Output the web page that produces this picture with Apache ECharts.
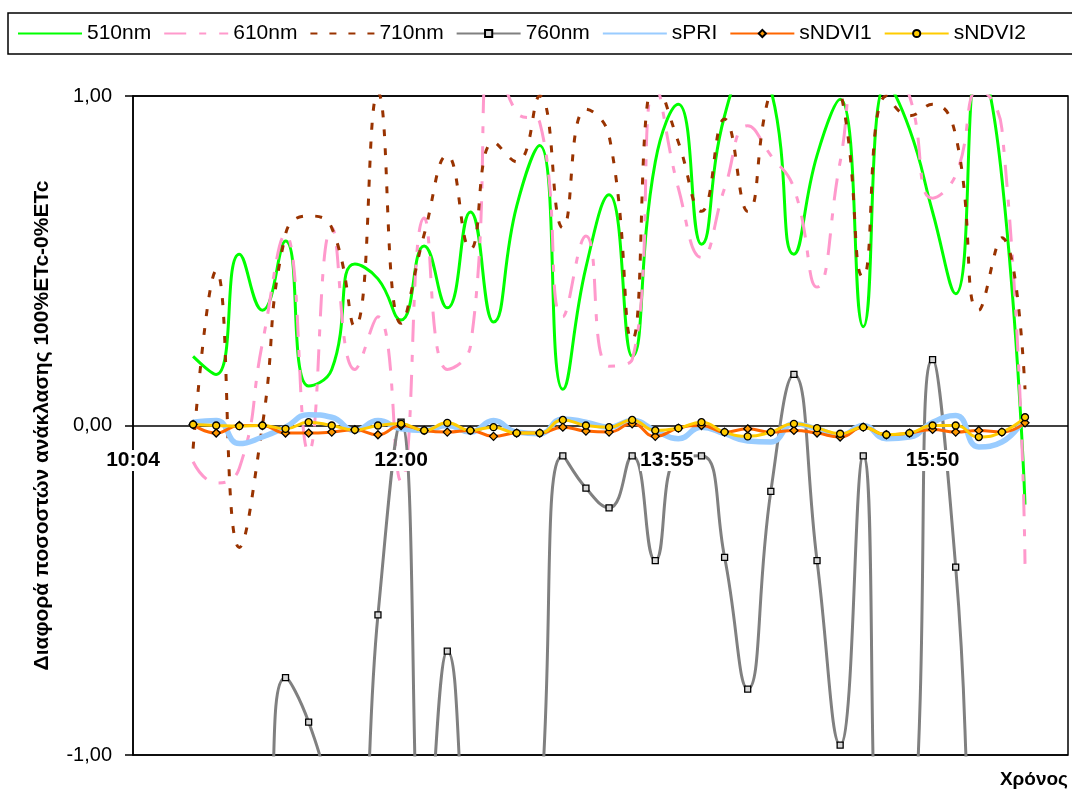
<!DOCTYPE html>
<html>
<head>
<meta charset="UTF-8">
<title>Διαφορά ανάκλασης</title>
<script type="text/javascript" src="https://cdn.jsdelivr.net/npm/echarts@6/dist/echarts.min.js"></script>
<style>
  html, body { margin: 0; padding: 0; background: #fff; }
</style>
</head>
<body>
	<div id="div1" style="width:1072px;height:790px"></div>
	<script type="text/javascript">
	// measurement times (one point every ~10 min)
	var times = ['10:30','10:40','10:50','11:00','11:10','11:20','11:30','11:40','11:50',
		'12:00','12:10','12:20','12:30','12:40','12:50','13:00','13:10','13:20','13:30','13:40','13:50',
		'14:00','14:10','14:20','14:30','14:40','14:50','15:00','15:10','15:20','15:30','15:40','15:50',
		'16:00','16:10','16:20','16:30'];
	var tickLabels = ['10:04', '12:00', '13:55', '15:50'];
	var yTicks = [-1, 0, 1];

	var nm510 = [0.21, 0.155, 0.52, 0.35, 0.56, 0.12, 0.17, 0.49, 0.445, 0.32, 0.545, 0.357, 0.648, 0.314, 0.665, 0.85, 0.11, 0.48, 0.70,
		0.21, 0.80, 0.975, 0.55, 0.94, 1.06, 1.02, 0.52, 0.82, 0.99, 0.30, 1.04, 0.90, 0.648, 0.40, 1.1, 0.75, -0.24];
	var nm610 = [-0.11, -0.175, -0.13, 0.25, 0.58, -0.08, 0.60, 0.17, 0.33, -0.17, 0.63, 0.17, 0.24, 1.15, 0.95, 0.92, 0.33, 0.575, 0.18,
		0.20, 1.03, 0.72, 0.51, 0.72, 0.91, 0.82, 0.72, 0.42, 0.80, 1.15, 1.12, 1.0, 0.69, 0.76, 1.02, 0.90, -0.42];
	var nm710 = [-0.07, 0.47, -0.37, 0.0, 0.58, 0.636, 0.60, 0.30, 1.01, 0.31, 0.58, 0.82, 0.535, 0.86, 0.80, 1.0, 0.60, 0.96, 0.88,
		0.26, 1.05, 0.86, 0.65, 0.93, 0.65, 1.02, 1.12, 1.1, 1.02, 0.45, 1.0, 0.94, 0.975, 0.88, 0.35, 0.57, 0.11];
	var nm760 = [-1.6, -1.8, -1.9, -1.67, -0.765, -0.90, -1.15, -1.45, -0.575, 0.01, -1.4, -0.685, -1.5, -2.0, -1.8, -1.2, -0.092, -0.19, -0.25,
		-0.092, -0.41, -0.095, -0.092, -0.40, -0.80, -0.20, 0.155, -0.41, -0.97, -0.092, -1.5, -1.45, 0.20, -0.43, -1.5, -1.7, -1.5];
	var sPRI = [0.01, 0.015, -0.055, -0.035, -0.005, 0.033, 0.025, -0.015, 0.015, -0.01, -0.015, 0.0, -0.02, 0.015, -0.02, -0.025, 0.02, 0.01, -0.005,
		0.015, -0.015, -0.04, -0.005, -0.025, -0.047, -0.05, 0.005, -0.01, -0.03, 0.0, -0.04, -0.035, 0.01, 0.03, -0.065, -0.05, 0.025];
	var sNDVI1 = [0.003, -0.023, 0.0, 0.0, -0.023, -0.023, -0.02, -0.013, -0.028, 0.0, -0.015, -0.02, -0.015, -0.033, -0.023, -0.023, -0.005, -0.017, -0.02,
		0.005, -0.033, -0.008, 0.0, -0.02, -0.01, -0.02, -0.015, -0.023, -0.035, -0.005, -0.028, -0.023, -0.012, -0.02, -0.015, -0.02, 0.008];
	var sNDVI2 = [0.003, 0.0, -0.002, 0.0, -0.01, 0.01, 0.0, -0.013, 0.0, 0.005, -0.015, 0.008, -0.015, -0.005, -0.023, -0.023, 0.017, 0.0, -0.005,
		0.017, -0.015, -0.008, 0.01, -0.02, -0.033, -0.02, 0.005, -0.008, -0.025, -0.005, -0.028, -0.023, 0.0, 0.0, -0.035, -0.02, 0.025];

	function toMin(t) {
		var p = t.split(':');
		return +p[0] * 60 + +p[1];
	}
	function fmtMin(v) {
		var h = Math.floor(v / 60), m = Math.round(v - h * 60);
		return h + ':' + (m < 10 ? '0' + m : m);
	}
	var pairs = function (vals) {
		var res = [];
		for (var i = 0; i < vals.length; i++) {
			res.push([toMin(times[i]), vals[i]]);
		}
		return res;
	};

	var myChart = echarts.init(document.getElementById('div1'));
	var font = 'Liberation Sans, Arial, sans-serif';

	function lineSeries(name, vals, color, width, dash, symbol, size, fill) {
		return {
			name: name,
			type: 'line',
			data: pairs(vals),
			smooth: true,
			symbol: symbol || 'none',
			symbolSize: size || 0,
			showAllSymbol: true,
			clip: true,
			lineStyle: { color: color, width: width, type: dash || 'solid', cap: 'butt' },
			itemStyle: { color: fill || color, borderColor: '#000', borderWidth: 1.3 },
			emphasis: { disabled: true }
		};
	}
	// legend entries of series without markers: line only
	var noMark = { opacity: 0 };

	var option = {
		animation: false,
		backgroundColor: '#fff',
		textStyle: { fontFamily: font },
		title: {
			text: 'Χρόνος',
			right: 4,
			bottom: 1,
			padding: 0,
			textStyle: { fontSize: 19, fontWeight: 'bold', color: '#000', fontFamily: font }
		},
		legend: {
			left: 8,
			top: 13,
			width: 1200,
			padding: [10, 60, 10, 9],
			borderColor: '#000',
			borderWidth: 1.5,
			itemWidth: 64,
			itemHeight: 9,
			itemGap: 12,
			textStyle: { fontSize: 21, color: '#000', fontFamily: font },
			data: [
				{ name: '510nm', itemStyle: noMark },
				{ name: '610nm', itemStyle: noMark },
				{ name: '710nm', itemStyle: noMark },
				{ name: '760nm' },
				{ name: 'sPRI', itemStyle: noMark },
				{ name: 'sNDVI1' },
				{ name: 'sNDVI2' }
			]
		},
		grid: {
			left: 133,
			right: 4,
			top: 96,
			bottom: 35,
			outerBoundsMode: 'none',
			containLabel: false,
			show: true,
			borderColor: '#000',
			borderWidth: 1.5
		},
		xAxis: {
			type: 'value',
			min: 604,
			max: 1008.6,
			z: 10,
			axisLine: { show: false, onZero: false },
			axisTick: { show: false },
			splitLine: { show: false },
			axisLabel: {
				customValues: tickLabels.map(toMin),
				formatter: function (v) { return fmtMin(v); },
				fontSize: 21,
				fontWeight: 'bold',
				color: '#000',
				// labels sit just under the zero line, as in the original
				margin: -305,
				backgroundColor: '#fff',
				fontFamily: font
			}
		},
		yAxis: {
			type: 'value',
			min: -1,
			max: 1,
			interval: 1,
			name: 'Διαφορά ποσοστών ανάκλασης 100%ETc-0%ETc',
			nameLocation: 'middle',
			nameGap: 80,
			nameTextStyle: { fontSize: 21, fontWeight: 'bold', color: '#000', fontFamily: font },
			axisLine: { show: true, onZero: false, lineStyle: { color: '#000', width: 1.5 } },
			axisTick: { show: true, length: 8, lineStyle: { color: '#000', width: 1.5 } },
			splitLine: { show: true, lineStyle: { color: '#000', width: 1.5 } },
			axisLabel: {
				customValues: yTicks,
				formatter: function (v) { return v.toFixed(2).replace('.', ','); },
				fontSize: 20,
				color: '#000',
				margin: 21,
				fontFamily: font
			}
		},
		series: [
			lineSeries('510nm', nm510, '#00FF00', 3),
			lineSeries('610nm', nm610, '#FF99CC', 3, [22, 13, 7, 13]),
			lineSeries('710nm', nm710, '#993300', 3, [7, 12]),
			lineSeries('760nm', nm760, '#808080', 3, null, 'rect', 6, '#d8d8d8'),
			lineSeries('sPRI', sPRI, '#99CCFF', 5.5),
			lineSeries('sNDVI1', sNDVI1, '#FF6600', 3, null, 'diamond', 8, '#FF9900'),
			lineSeries('sNDVI2', sNDVI2, '#FFCC00', 3, null, 'circle', 7, '#FFCC00')
		]
	};
	myChart.setOption(option);
	</script>
</body>
</html>
